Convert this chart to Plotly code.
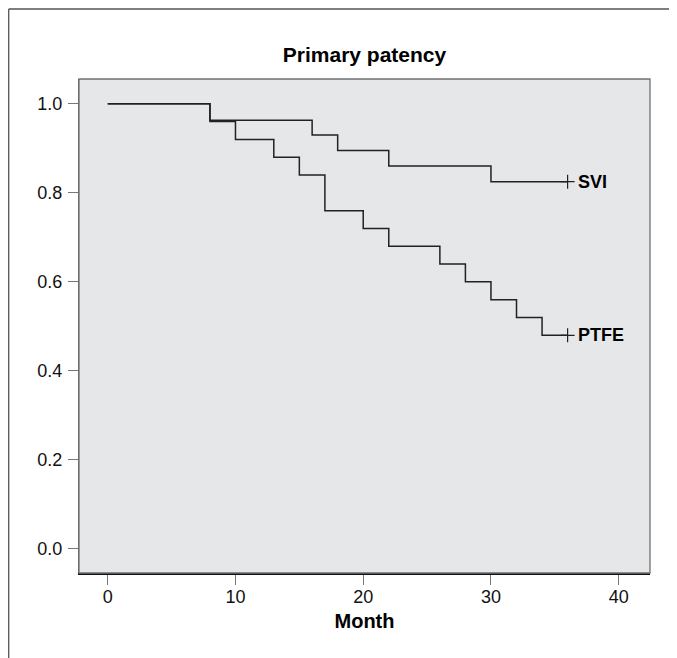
import plotly.graph_objects as go

# Kaplan-Meier step data
svi_month = [0, 8, 16, 18, 22, 30, 36]
svi_surv = [1.0, 0.963, 0.930, 0.895, 0.860, 0.825, 0.825]

ptfe_month = [0, 8, 10, 13, 15, 17, 20, 22, 26, 28, 30, 32, 34, 36]
ptfe_surv = [1.0, 0.96, 0.92, 0.88, 0.84, 0.76, 0.72, 0.68, 0.64,
             0.60, 0.56, 0.52, 0.48, 0.48]

series_names = ["SVI", "PTFE"]
x_ticks = [0, 10, 20, 30, 40]
y_ticks = [0.0, 0.2, 0.4, 0.6, 0.8, 1.0]
y_tick_labels = ["0.0", "0.2", "0.4", "0.6", "0.8", "1.0"]

FONT = "Liberation Sans, Arial, Helvetica, sans-serif"
LINE = "#222222"

# plot area in figure pixels
L, T, W, H = 71, 71, 571, 494
FIG_W, FIG_H = 677, 658

fig = go.Figure()
for name, xs, ys in [(series_names[0], svi_month, svi_surv),
                     (series_names[1], ptfe_month, ptfe_surv)]:
    fig.add_trace(go.Scatter(x=xs, y=ys, mode="lines", line_shape="hv",
                             line=dict(color=LINE, width=1.5), name=name,
                             showlegend=False, hoverinfo="skip"))
    # censor mark at the last point
    fig.add_trace(go.Scatter(x=[xs[-1]], y=[ys[-1]], mode="markers",
                             marker=dict(symbol="cross-thin", size=10,
                                         line=dict(color=LINE, width=1.2)),
                             showlegend=False, hoverinfo="skip"))
    fig.add_annotation(x=xs[-1], y=ys[-1], xref="x", yref="y", text=name,
                       showarrow=False, xanchor="left", yanchor="middle",
                       xshift=8,
                       font=dict(family=FONT, size=18, color="#000",
                                 weight="bold"))

fig.update_layout(
    width=FIG_W, height=FIG_H,
    margin=dict(l=L, r=FIG_W - L - W, t=T, b=FIG_H - T - H),
    paper_bgcolor="white",
    plot_bgcolor="#e6e7e9",
    title=dict(text="Primary patency", x=0.5, xref="paper",
               y=1 - 47 / FIG_H, yanchor="middle",
               font=dict(family=FONT, size=21, color="#000", weight="bold")),
    font=dict(family=FONT, size=18, color="#111"),
)

fig.update_xaxes(range=[-2.25, 42.45], tickvals=x_ticks,
                 ticktext=[str(v) for v in x_ticks],
                 showgrid=False, zeroline=False, showline=True,
                 linecolor="#111", linewidth=1.5,
                 ticks="outside", ticklen=10, tickcolor="#777", tickwidth=1,
                 ticklabelstandoff=-3,
                 tickfont=dict(family=FONT, size=18, color="#111"),
                 title=dict(text="Month", standoff=8,
                            font=dict(family=FONT, size=20, color="#000",
                                      weight="bold")))
fig.update_yaxes(range=[-0.054, 1.0557], tickvals=y_ticks,
                 ticktext=y_tick_labels,
                 showgrid=False, zeroline=False, showline=True,
                 linecolor="#666", linewidth=1.3,
                 ticks="outside", ticklen=10, tickcolor="#777", tickwidth=1,
                 ticklabelstandoff=2,
                 tickfont=dict(family=FONT, size=18, color="#111"))

# plot-area border
fig.add_shape(type="rect", xref="paper", yref="paper", x0=0, x1=1, y0=0, y1=1,
              line=dict(color="#707070", width=1.3), layer="above")
# outer frame: left and top edges of the figure box
fx = (0.7 - L) / W
fy_top = (T + H - 1) / H
fy_bot = (T + H - FIG_H - 2) / H
fx_right = (FIG_W + 2 - L) / W
fig.add_shape(type="line", xref="paper", yref="paper", x0=fx, x1=fx,
              y0=fy_bot, y1=fy_top, line=dict(color="#555", width=1.3))
fig.add_shape(type="line", xref="paper", yref="paper", x0=fx, x1=fx_right,
              y0=fy_top, y1=fy_top, line=dict(color="#555", width=1.3))

fig.write_html("out.html")
